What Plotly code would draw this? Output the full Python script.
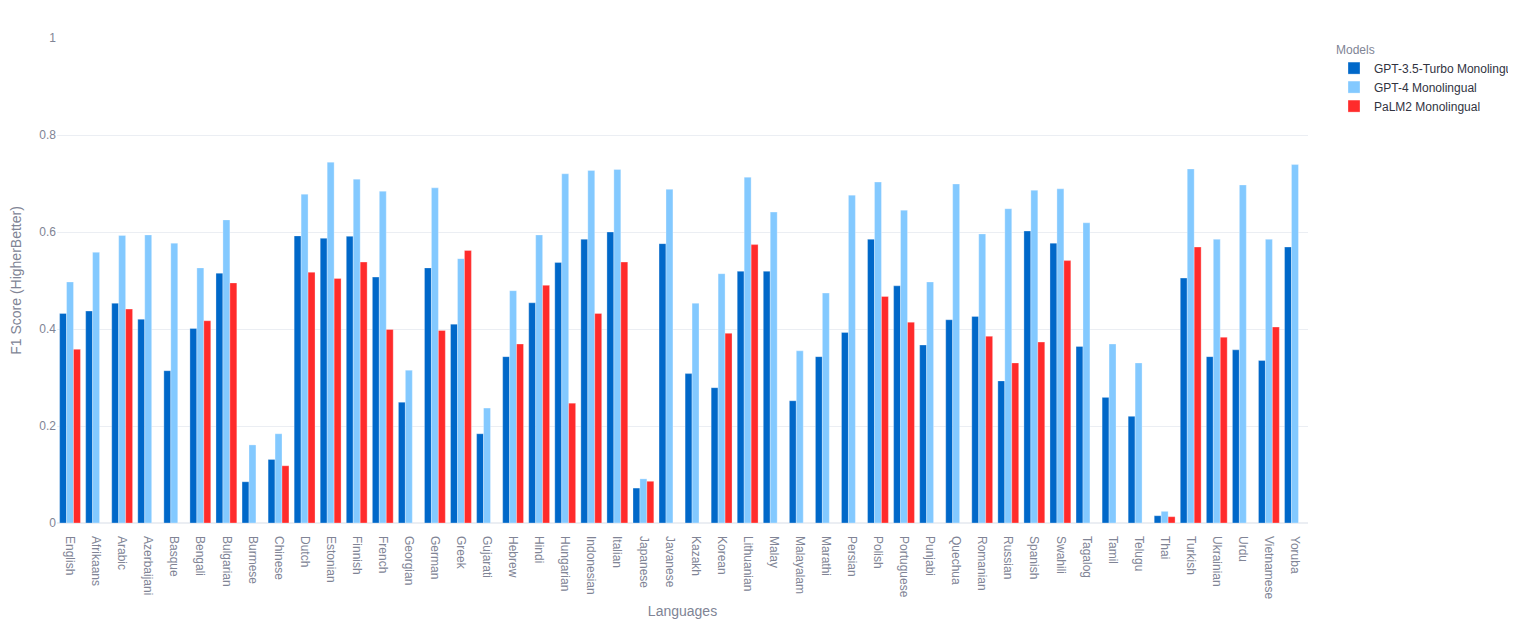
import plotly.graph_objects as go

languages = ["English", "Afrikaans", "Arabic", "Azerbaijani", "Basque", "Bengali", "Bulgarian",
             "Burmese", "Chinese", "Dutch", "Estonian", "Finnish", "French", "Georgian", "German",
             "Greek", "Gujarati", "Hebrew", "Hindi", "Hungarian", "Indonesian", "Italian",
             "Japanese", "Javanese", "Kazakh", "Korean", "Lithuanian", "Malay", "Malayalam",
             "Marathi", "Persian", "Polish", "Portuguese", "Punjabi", "Quechua", "Romanian",
             "Russian", "Spanish", "Swahili", "Tagalog", "Tamil", "Telugu", "Thai", "Turkish",
             "Ukrainian", "Urdu", "Vietnamese", "Yoruba"]

gpt35 = [0.432, 0.437, 0.453, 0.420, 0.314, 0.401, 0.515, 0.085, 0.131, 0.592, 0.587, 0.591,
         0.507, 0.249, 0.526, 0.410, 0.184, 0.343, 0.454, 0.537, 0.585, 0.600, 0.072, 0.576,
         0.308, 0.279, 0.519, 0.519, 0.252, 0.343, 0.393, 0.585, 0.489, 0.367, 0.419, 0.426,
         0.293, 0.602, 0.577, 0.364, 0.259, 0.220, 0.015, 0.505, 0.343, 0.357, 0.335, 0.569]

gpt4 = [0.497, 0.558, 0.593, 0.594, 0.577, 0.526, 0.625, 0.161, 0.184, 0.678, 0.744, 0.709,
        0.684, 0.315, 0.691, 0.545, 0.237, 0.479, 0.594, 0.720, 0.727, 0.729, 0.091, 0.688,
        0.453, 0.514, 0.713, 0.641, 0.355, 0.474, 0.676, 0.703, 0.645, 0.497, 0.699, 0.596,
        0.648, 0.686, 0.689, 0.619, 0.369, 0.330, 0.024, 0.730, 0.585, 0.697, 0.585, 0.739]

palm2 = [0.358, None, 0.441, None, None, 0.417, 0.495, None, 0.118, 0.517, 0.504, 0.538,
         0.399, None, 0.397, 0.562, None, 0.369, 0.490, 0.247, 0.432, 0.538, 0.086, None,
         None, 0.391, 0.574, None, None, None, None, 0.467, 0.414, None, None, 0.385,
         0.330, 0.373, 0.541, None, None, None, 0.013, 0.569, 0.383, None, 0.404, None]

series_names = ["GPT-3.5-Turbo Monolingual", "GPT-4 Monolingual", "PaLM2 Monolingual"]
series_values = [gpt35, gpt4, palm2]
colors = ["#0068C9", "#83C9FF", "#FF2B2B"]

font_family = "Liberation Sans, Arial, sans-serif"
gray = "#808495"

W, H = 1500, 611

fig = go.Figure()
for name, vals, col in zip(series_names, series_values, colors):
    fig.add_trace(go.Bar(
        x=languages, y=vals, name=name,
        marker=dict(color=col, line=dict(color="rgba(255,255,255,0.6)", width=0.5)),
    ))

fig.update_layout(
    template="plotly_white",
    width=W, height=H,
    barmode="group",
    bargap=0.2, bargroupgap=0,
    margin=dict(l=49, r=200, t=30, b=96, autoexpand=False),
    paper_bgcolor="white", plot_bgcolor="white",
    font=dict(family=font_family, size=12, color=gray),
    legend=dict(
        title=dict(text="Models", font=dict(size=12, color=gray)),
        font=dict(size=12, color="#31333F"),
        xref="container", yref="container",
        x=1326 / W, xanchor="left", y=1 - 30 / H, yanchor="top",
        tracegroupgap=0,
    ),
    xaxis=dict(
        title=dict(text="Languages", font=dict(size=14, color=gray), standoff=11),
        tickangle=90,
        tickfont=dict(size=12, color=gray),
        showgrid=False,
        ticks="",
        ticklabelstandoff=12,
        automargin=False,
    ),
    yaxis=dict(
        title=dict(text="F1 Score (HigherBetter)", font=dict(size=14, color=gray), standoff=21),
        range=[0, 1],
        tickvals=[0, 0.2, 0.4, 0.6, 0.8, 1],
        ticktext=["0", "0.2", "0.4", "0.6", "0.8", "1"],
        tickfont=dict(size=12, color=gray),
        gridcolor="#EBEEF3",
        zerolinecolor="#EBEEF3",
        zerolinewidth=2,
        automargin=False,
    ),
)

fig.write_html("out.html")
